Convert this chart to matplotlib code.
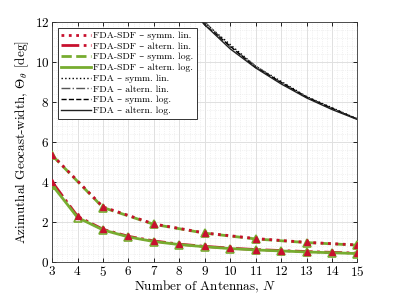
import matplotlib
matplotlib.use('Agg')
import matplotlib.pyplot as plt
from matplotlib.ticker import MultipleLocator
import numpy as np

plt.rcParams['font.family'] = ['cmr10', 'DejaVu Serif']
plt.rcParams['mathtext.fontset'] = 'cm'
plt.rcParams['axes.formatter.use_mathtext'] = True

# antenna counts
n_odd = [3, 5, 7, 9, 11, 13, 15]
n_all = [3, 4, 5, 6, 7, 8, 9, 10, 11, 12, 13, 14, 15]

# FDA-SDF geocast widths [deg]
sdf_symm_lin = [5.35, 2.75, 1.90, 1.45, 1.17, 0.98, 0.85]
sdf_symm_log = [5.33, 2.72, 1.88, 1.44, 1.15, 0.97, 0.84]
sdf_alt_lin = [4.00, 2.28, 1.63, 1.28, 1.05, 0.89, 0.78, 0.69, 0.62, 0.57, 0.52, 0.48, 0.44]
sdf_alt_log = [3.85, 2.22, 1.60, 1.25, 1.02, 0.87, 0.76, 0.67, 0.60, 0.55, 0.50, 0.46, 0.42]

# FDA geocast widths [deg]
fda_symm_lin = [35.7, 21.4, 15.3, 11.95, 9.78, 8.27, 7.15]
fda_symm_log = [35.5, 21.2, 15.2, 11.85, 9.72, 8.24, 7.13]
fda_alt_lin = [35.6, 26.8, 21.3, 17.9, 15.3, 13.4, 12.0, 10.75, 9.80, 8.95, 8.25, 7.65, 7.15]
fda_alt_log = [35.4, 26.6, 21.2, 17.8, 15.2, 13.3, 11.85, 10.65, 9.70, 8.90, 8.20, 7.62, 7.12]

red = '#c8102e'
green = '#77ac30'

fig = plt.figure(figsize=(3.95, 2.96), dpi=100)
ax = fig.add_axes([0.132, 0.115, 0.773, 0.811])

ax.plot(n_odd, sdf_symm_lin, ':', color=red, lw=2, label='FDA-SDF – symm. lin.', zorder=4)
ax.plot(n_all, sdf_alt_lin, '-.', color=red, lw=2, label='FDA-SDF – altern. lin.', zorder=3)
ax.plot(n_odd, sdf_symm_log, '--', color=green, lw=2, label='FDA-SDF – symm. log.', zorder=3)
ax.plot(n_all, sdf_alt_log, '-', color=green, lw=2, label='FDA-SDF – altern. log.', zorder=4)
ax.plot(n_odd, fda_symm_lin, ':', color='k', lw=1, label='FDA – symm. lin.')
ax.plot(n_all, fda_alt_lin, '-.', color='#555555', lw=1, label='FDA – altern. lin.')
ax.plot(n_odd, fda_symm_log, '--', color='k', lw=1, label='FDA – symm. log.')
ax.plot(n_all, fda_alt_log, '-', color='#222222', lw=1, label='FDA – altern. log.')

# triangle markers on the FDA-SDF curves
ax.plot(n_odd, sdf_symm_log, '^', ms=6, mfc='none', mec=green, mew=1.2, zorder=5)
ax.plot(n_all, sdf_alt_log, '^', ms=6, mfc='none', mec=green, mew=1.2, zorder=5)
ax.plot(n_odd, sdf_symm_lin, '^', ms=4, mfc=red, mec=red, zorder=6)
ax.plot(n_all, sdf_alt_lin, '^', ms=4, mfc=red, mec=red, zorder=6)

ax.set_xlim(3, 15)
ax.set_ylim(0, 12)
ax.xaxis.set_major_locator(MultipleLocator(1))
ax.yaxis.set_major_locator(MultipleLocator(2))
ax.xaxis.set_minor_locator(MultipleLocator(0.2))
ax.yaxis.set_minor_locator(MultipleLocator(0.4))
ax.grid(which='major', color='#e0e0e0', lw=0.7)
ax.grid(which='minor', color='#e6e6e6', lw=0.5, ls=':')
ax.tick_params(which='both', direction='in', top=True, right=True, labelsize=9.5, pad=2)
ax.tick_params(which='minor', length=0)
ax.tick_params(which='major', length=3, width=0.6)
for s in ax.spines.values():
    s.set_linewidth(0.6)
    s.set_color('#333333')

ax.set_xlabel(r'Number of Antennas, $N$', fontsize=9.5, labelpad=0)
ax.set_ylabel(r'Azimuthal Geocast-width, $\Theta_\theta$ [deg]', fontsize=9.5, labelpad=3)

leg = ax.legend(loc='upper left', fontsize=7.0, handlelength=3.0, handletextpad=0.25,
                labelspacing=0.2, borderpad=0.35, fancybox=False, framealpha=1,
                edgecolor='#333333', borderaxespad=0.6)
leg.get_frame().set_linewidth(0.7)

fig.savefig('out.png', dpi=100)
